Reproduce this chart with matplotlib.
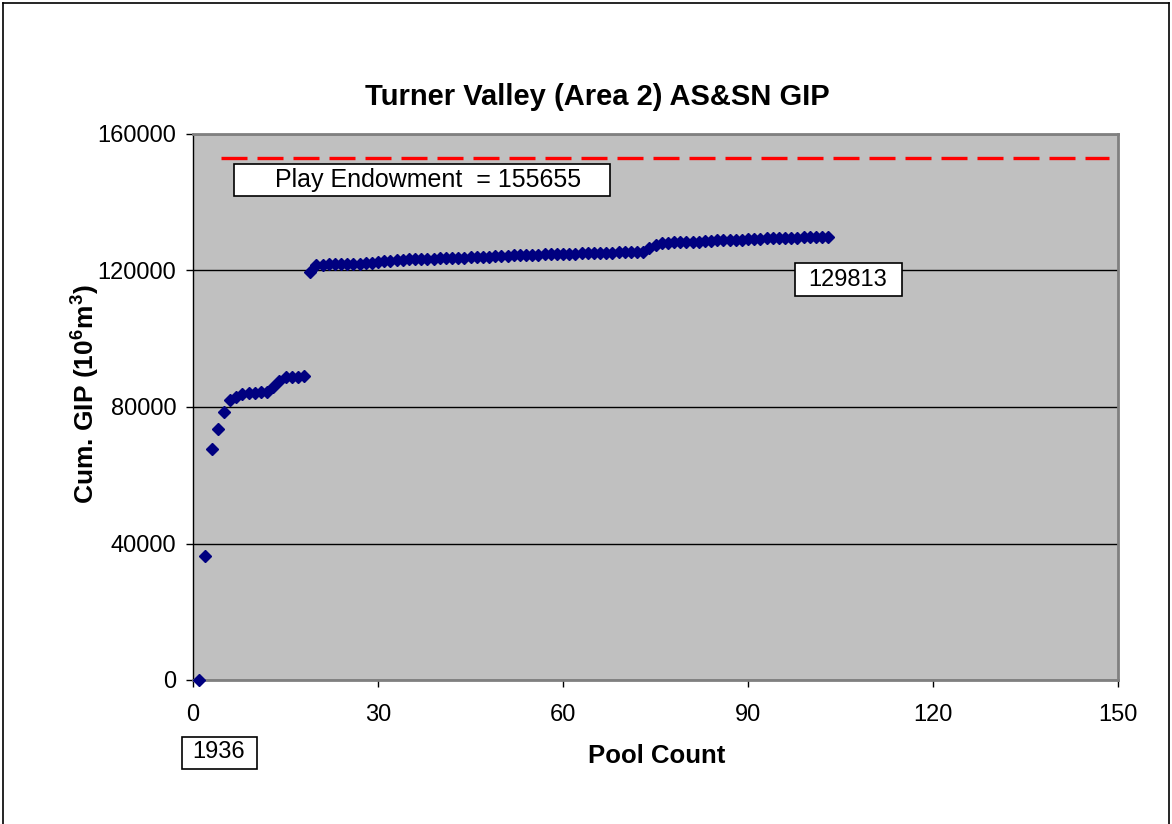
import matplotlib
matplotlib.use("Agg")
import matplotlib.pyplot as plt
from matplotlib.lines import Line2D
from matplotlib.patches import Rectangle

plt.rcParams['font.family'] = ['Liberation Sans', 'DejaVu Sans']
plt.rcParams['mathtext.fontset'] = 'custom'
plt.rcParams['mathtext.rm'] = 'Liberation Sans'
plt.rcParams['mathtext.bf'] = 'Liberation Sans:bold'

title = "Turner Valley (Area 2) AS&SN GIP"
x_label = "Pool Count"
y_label = r"Cum. GIP (10$^{\mathbf{6}}$m$^{\mathbf{3}}$)"

pool_count = list(range(1, 104))
cum_gip = [
    0, 36300, 67700, 73500, 78500, 82000, 83000, 83800, 84100, 84200,
    84300, 84500, 86000, 87600, 88700, 88800, 88900, 89000, 119600, 121600,
    121700, 121800, 121850, 121900, 121950, 122000, 122050, 122100, 122200, 122400,
    122700, 122900, 123050, 123150, 123250, 123300, 123400, 123450, 123500, 123550,
    123600, 123650, 123700, 123750, 123850, 123950, 124050, 124100, 124150, 124200,
    124300, 124400, 124500, 124550, 124600, 124650, 124700, 124750, 124800, 124850,
    124900, 124950, 125000, 125050, 125100, 125150, 125200, 125250, 125300, 125350,
    125400, 125450, 125500, 126600, 127600, 128000, 128150, 128250, 128300, 128350,
    128400, 128450, 128500, 128600, 128800, 128900, 128950, 129000, 129050, 129100,
    129200, 129300, 129400, 129450, 129500, 129550, 129600, 129650, 129700, 129750,
    129780, 129800, 129813,
]

endowment_x = [4.5, 148.5]
endowment_y = [153000, 153000]
endowment_label = "Play Endowment  = 155655"
final_label = "129813"
start_label = "1936"

x_ticks = [0, 30, 60, 90, 120, 150]
y_ticks = [0, 40000, 80000, 120000, 160000]

W, H = 1172, 824
fig = plt.figure(figsize=(W/100, H/100), dpi=100)
fig.patch.set_facecolor('white')
ax = fig.add_axes([193/W, 1-680/H, (1118-193)/W, (680-134)/H])
ax.set_facecolor('#C0C0C0')

ax.set_xlim(0, 150)
ax.set_ylim(0, 160000)
ax.set_xticks(x_ticks)
ax.set_yticks(y_ticks)
ax.yaxis.grid(True, color='black', linewidth=1)
ax.set_axisbelow(True)

ax.plot(pool_count, cum_gip, linestyle='none', marker='D', markersize=6.5,
        color='#000080', markeredgecolor='#000080', zorder=3, clip_on=False)
ax.plot(endowment_x, endowment_y, color='#FF0000', linewidth=2.4,
        dashes=(7.8, 3.0), zorder=3)

# Play endowment box
ax.add_patch(Rectangle((6.65, 141830), 67.6-6.65, 151210-141830,
                       facecolor='white', edgecolor='black', lw=1.2, zorder=4))
ax.text(38.1, 146500, endowment_label, ha='center', va='center', fontsize=18,
        zorder=5)
# final value box
ax.add_patch(Rectangle((97.6, 112530), 115.0-97.6, 122200-112530,
                       facecolor='white', edgecolor='black', lw=1.2, zorder=4))
ax.text(106.2, 117300, final_label, ha='center', va='center', fontsize=17,
        zorder=5)
# start year box (outside axes)
fig.add_artist(Rectangle((182/W, 1-769/H), (257-182)/W, (769-737)/H,
                         facecolor='white', edgecolor='black', lw=1.2,
                         transform=fig.transFigure))
fig.text(219/W, 1-752/H, start_label, ha='center', va='center', fontsize=17)

for s in ['top', 'right', 'bottom']:
    ax.spines[s].set_color('#808080')
    ax.spines[s].set_linewidth(2)
ax.spines['left'].set_color('black')
ax.spines['left'].set_linewidth(1)

ax.tick_params(axis='both', direction='out', length=5, width=1, color='black',
               labelsize=17)
ax.tick_params(axis='x', pad=12)
ax.tick_params(axis='y', pad=7)

fig.text(597/W, 1-97/H, title, ha='center', va='center', fontsize=21,
         fontweight='bold')
fig.text(657/W, 1-756/H, x_label, ha='center', va='center', fontsize=18.5,
         fontweight='bold')
fig.text(85/W, 1-394/H, y_label, ha='center', va='center', fontsize=19,
         fontweight='bold', rotation=90)

fig.add_artist(Line2D([3/W, 3/W], [0, 1-3/H], color='black', lw=1.2,
                      transform=fig.transFigure))
fig.add_artist(Line2D([3/W, 1169/W], [1-3/H, 1-3/H], color='black', lw=1.2,
                      transform=fig.transFigure))
fig.add_artist(Line2D([1169/W, 1169/W], [0, 1-3/H], color='black', lw=1.2,
                      transform=fig.transFigure))

fig.savefig("out.png", dpi=100)
